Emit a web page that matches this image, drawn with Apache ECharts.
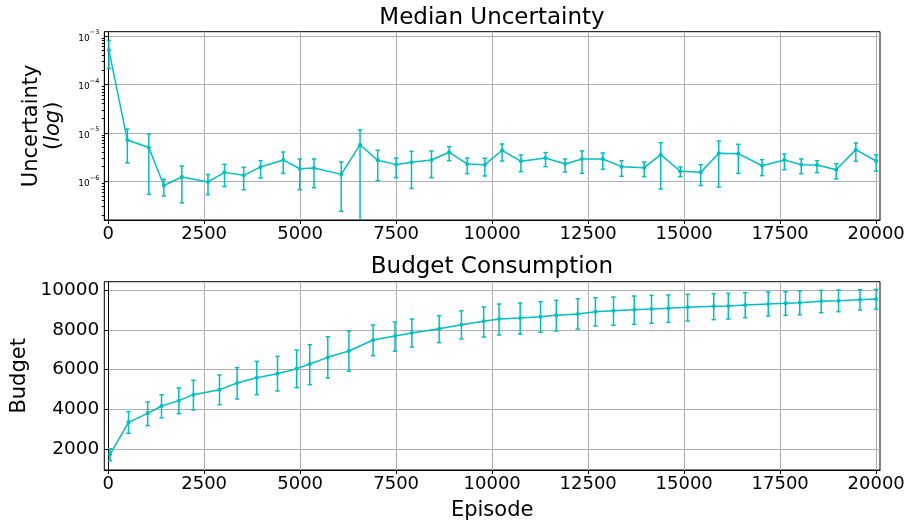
<!DOCTYPE html>
<html>
<head>
<meta charset="utf-8">
<script src="https://cdn.jsdelivr.net/npm/echarts@6/dist/echarts.min.js"></script>
<style>
  html, body { margin: 0; padding: 0; background: #ffffff; }
  #chart { width: 909px; height: 523px; }
</style>
</head>
<body>
<div id="chart"></div>
<script>
// Median uncertainty per evaluation episode (log scale), with error bar bounds
const uncEpisodes = [20, 500, 1060, 1450, 1920, 2600, 3030, 3530, 3970, 4560, 4990, 5360, 6070, 6560,
  7020, 7500, 7900, 8420, 8880, 9350, 9810, 10260, 10750, 11390, 11900, 12340, 12880, 13370,
  13960, 14390, 14900, 15430, 15900, 16410, 17030, 17610, 18050, 18460, 18960, 19470, 20000];
const uncMedian = [5.1e-4, 7.1e-6, 5.0e-6, 8.2e-7, 1.23e-6, 9.7e-7, 1.53e-6, 1.33e-6, 1.98e-6, 2.76e-6,
  1.82e-6, 1.88e-6, 1.39e-6, 5.7e-6, 2.71e-6, 2.21e-6, 2.47e-6, 2.76e-6, 3.97e-6, 2.28e-6, 2.21e-6,
  4.37e-6, 2.59e-6, 3.03e-6, 2.28e-6, 2.89e-6, 2.89e-6, 2.01e-6, 1.91e-6, 3.55e-6, 1.61e-6, 1.53e-6,
  3.78e-6, 3.72e-6, 2.1e-6, 2.76e-6, 2.21e-6, 2.17e-6, 1.74e-6, 4.51e-6, 2.63e-6];
const uncLow = [2.15e-4, 2.4e-6, 5.4e-7, 5.0e-7, 3.6e-7, 5.3e-7, 7.8e-7, 6.7e-7, 1.17e-6, 1.46e-6,
  6.7e-7, 7.4e-7, 2.4e-7, 1e-8, 1.03e-6, 1.19e-6, 7.1e-7, 1.19e-6, 2.67e-6, 1.44e-6, 1.29e-6,
  2.63e-6, 1.58e-6, 2.01e-6, 1.56e-6, 1.46e-6, 1.77e-6, 1.27e-6, 1.25e-6, 6.95e-7, 1.25e-6, 8.2e-7,
  7.6e-7, 1.46e-6, 1.31e-6, 1.74e-6, 1.44e-6, 1.51e-6, 1.12e-6, 2.59e-6, 1.63e-6];
const uncHigh = [8.1e-4, 1.2e-5, 9.5e-6, 1.1e-6, 2.07e-6, 1.39e-6, 2.24e-6, 1.95e-6, 2.67e-6, 4.03e-6,
  2.89e-6, 2.89e-6, 2.5e-6, 1.15e-5, 4.37e-6, 3.03e-6, 4.16e-6, 4.23e-6, 5.2e-6, 3.03e-6, 2.99e-6,
  5.9e-6, 3.5e-6, 3.91e-6, 2.89e-6, 4.23e-6, 3.85e-6, 2.67e-6, 2.5e-6, 6.28e-6, 1.98e-6, 2.21e-6,
  6.8e-6, 5.8e-6, 2.8e-6, 3.67e-6, 2.89e-6, 2.67e-6, 2.32e-6, 6.18e-6, 3.5e-6];

// Budget consumed per evaluation episode, with error bar bounds
const budEpisodes = [50, 530, 1030, 1390, 1840, 2220, 2900, 3360, 3870, 4410, 4910, 5250, 5720, 6270,
  6900, 7470, 7910, 8620, 9200, 9780, 10180, 10730, 11260, 11670, 12230, 12690, 13160, 13700,
  14150, 14590, 15090, 15770, 16150, 16590, 17190, 17640, 18010, 18570, 19020, 19580, 20000];
const budMean = [1750, 3356, 3808, 4176, 4444, 4745, 4996, 5331, 5599, 5800, 6051, 6285, 6620, 6938,
  7491, 7692, 7842, 8060, 8261, 8428, 8545, 8596, 8663, 8729, 8796, 8914, 8964, 9014, 9048, 9081,
  9131, 9182, 9198, 9249, 9299, 9332, 9366, 9433, 9466, 9517, 9550];
const budLow = [1431, 2804, 3189, 3574, 3791, 3975, 4243, 4528, 4745, 4930, 5097, 5248, 5582, 5917,
  6704, 6922, 7139, 7357, 7541, 7641, 7742, 7792, 7876, 7943, 8043, 8194, 8227, 8278, 8328, 8378,
  8445, 8512, 8545, 8612, 8696, 8729, 8763, 8863, 8914, 8997, 9031];
const budHigh = [2033, 3892, 4377, 4745, 5080, 5465, 5733, 6101, 6419, 6670, 6988, 7256, 7658, 7943,
  8244, 8395, 8545, 8713, 8964, 9148, 9299, 9349, 9416, 9483, 9567, 9617, 9650, 9701, 9734, 9751,
  9785, 9818, 9835, 9868, 9902, 9919, 9952, 9985, 10002, 10019, 10036];

// Tick positions
const episodeTicks = [0, 2500, 5000, 7500, 10000, 12500, 15000, 17500, 20000];
const uncTicks = [1e-6, 1e-5, 1e-4, 1e-3];
const budgetTicks = [2000, 4000, 6000, 8000, 10000];
const uncMinorTicks = [];
for (let e = -7; e <= -4; e++) {
  for (let m = 2; m <= 9; m++) uncMinorTicks.push(m * Math.pow(10, e));
}

const LINE_COLOR = '#00bfbf';
const FONT = 'DejaVu Sans';

const zip3 = (a, b, c) => a.map((v, i) => [v, b[i], c[i]]);
const zip2 = (a, b) => a.map((v, i) => [v, b[i]]);

function renderErrorBar(params, api) {
  const x = api.value(0);
  const pLo = api.coord([x, api.value(1)]);
  const pHi = api.coord([x, api.value(2)]);
  const cs = params.coordSys;
  const top = cs.y, bottom = cs.y + cs.height;
  const yLo = Math.min(pLo[1], bottom);
  const yHi = Math.max(pHi[1], top);
  const style = { stroke: LINE_COLOR, lineWidth: 1.5 };
  const cap = 2.2;
  const children = [
    { type: 'line', shape: { x1: pLo[0], y1: yLo, x2: pLo[0], y2: yHi }, style }
  ];
  if (pHi[1] >= top) children.push({ type: 'line', shape: { x1: pHi[0] - cap, y1: pHi[1], x2: pHi[0] + cap, y2: pHi[1] }, style });
  if (pLo[1] <= bottom) children.push({ type: 'line', shape: { x1: pLo[0] - cap, y1: pLo[1], x2: pLo[0] + cap, y2: pLo[1] }, style });
  return { type: 'group', children };
}

// "10" with a superscript exponent
function logLabel(value) {
  const exp = Math.round(Math.log10(value));
  const expStr = String(exp).replace('-', '\u2212');
  return '{b|10}{s|' + expStr + '}';
}
const plainNumber = (v) => String(v);

const gridLine = { show: true, lineStyle: { color: '#b0b0b0', width: 1 } };
const axisLineBlack = { show: true, lineStyle: { color: '#000000', width: 1 } };

const xAxisCommon = {
  type: 'value',
  min: -100,
  max: 20100,
  axisLine: axisLineBlack,
  axisTick: { show: true, customValues: episodeTicks, length: 4, lineStyle: { color: '#000' } },
  axisLabel: { customValues: episodeTicks, formatter: plainNumber, fontFamily: FONT, fontSize: 18, color: '#000', margin: 5 },
  splitLine: gridLine
};

const chart = echarts.init(document.getElementById('chart'), null, { renderer: 'canvas' });
chart.setOption({
  animation: false,
  backgroundColor: '#ffffff',
  title: [
    { text: 'Median Uncertainty', left: 492, top: 7, textAlign: 'center', padding: 0,
      textStyle: { fontFamily: FONT, fontSize: 23, fontWeight: 'normal', color: '#000' } },
    { text: 'Budget Consumption', left: 492, top: 256, textAlign: 'center', padding: 0,
      textStyle: { fontFamily: FONT, fontSize: 23, fontWeight: 'normal', color: '#000' } }
  ],
  grid: [
    { left: 104.3, right: 29, top: 31.7, height: 188.3, show: true, borderColor: '#000', borderWidth: 1,
      outerBoundsMode: 'none', containLabel: false },
    { left: 104.3, right: 29, top: 281.7, height: 188.3, show: true, borderColor: '#000', borderWidth: 1,
      outerBoundsMode: 'none', containLabel: false }
  ],
  xAxis: [
    Object.assign({ gridIndex: 0 }, xAxisCommon),
    Object.assign({ gridIndex: 1, name: 'Episode', nameLocation: 'middle', nameGap: 30,
      nameTextStyle: { fontFamily: FONT, fontSize: 21, color: '#000' } }, xAxisCommon)
  ],
  yAxis: [
    {
      gridIndex: 0, type: 'log', logBase: 10, min: 1.59e-7, max: 1.227e-3,
      axisLine: axisLineBlack,
      axisTick: { show: true, customValues: uncTicks, length: 4, lineStyle: { color: '#000' } },
      axisLabel: {
        customValues: uncTicks, formatter: logLabel, margin: 5,
        rich: {
          b: { fontFamily: FONT, fontSize: 9, color: '#000', verticalAlign: 'bottom', lineHeight: 14 },
          s: { fontFamily: FONT, fontSize: 6.5, color: '#000', verticalAlign: 'top', lineHeight: 14 }
        }
      },
      splitLine: gridLine,
      name: '{n|Uncertainty}\n{n|(}{i|log}{n|)}',
      nameLocation: 'middle', nameRotate: 90, nameGap: 40,
      nameTextStyle: {
        rich: {
          n: { fontFamily: FONT, fontSize: 21, color: '#000', lineHeight: 22 },
          i: { fontFamily: FONT, fontSize: 21, fontStyle: 'italic', color: '#000', lineHeight: 22 }
        }
      }
    },
    {
      // minor ticks for the log axis
      gridIndex: 0, type: 'log', logBase: 10, min: 1.59e-7, max: 1.227e-3, position: 'left',
      axisLine: axisLineBlack,
      axisTick: { show: true, customValues: uncMinorTicks, length: 2.5, lineStyle: { color: '#000', width: 1 } },
      axisLabel: { show: false },
      splitLine: { show: false }
    },
    {
      gridIndex: 1, type: 'value', min: 960, max: 10420,
      axisLine: axisLineBlack,
      axisTick: { show: true, customValues: budgetTicks, length: 4, lineStyle: { color: '#000' } },
      axisLabel: { customValues: budgetTicks, formatter: plainNumber, fontFamily: FONT, fontSize: 18.5, color: '#000', margin: 5 },
      splitLine: gridLine,
      name: 'Budget', nameLocation: 'middle', nameRotate: 90, nameGap: 71,
      nameTextStyle: { fontFamily: FONT, fontSize: 21, color: '#000' }
    }
  ],
  series: [
    {
      type: 'custom', xAxisIndex: 0, yAxisIndex: 0, renderItem: renderErrorBar,
      data: zip3(uncEpisodes, uncLow, uncHigh), silent: true, z: 2
    },
    {
      type: 'line', xAxisIndex: 0, yAxisIndex: 0, data: zip2(uncEpisodes, uncMedian),
      symbol: 'circle', symbolSize: 4, showSymbol: true, itemStyle: { color: LINE_COLOR },
      lineStyle: { color: LINE_COLOR, width: 1.5 }, z: 3
    },
    {
      type: 'custom', xAxisIndex: 1, yAxisIndex: 2, renderItem: renderErrorBar,
      data: zip3(budEpisodes, budLow, budHigh), silent: true, z: 2
    },
    {
      type: 'line', xAxisIndex: 1, yAxisIndex: 2, data: zip2(budEpisodes, budMean),
      symbol: 'circle', symbolSize: 4, showSymbol: true, itemStyle: { color: LINE_COLOR },
      lineStyle: { color: LINE_COLOR, width: 1.5 }, z: 3
    }
  ]
});
</script>
</body>
</html>
